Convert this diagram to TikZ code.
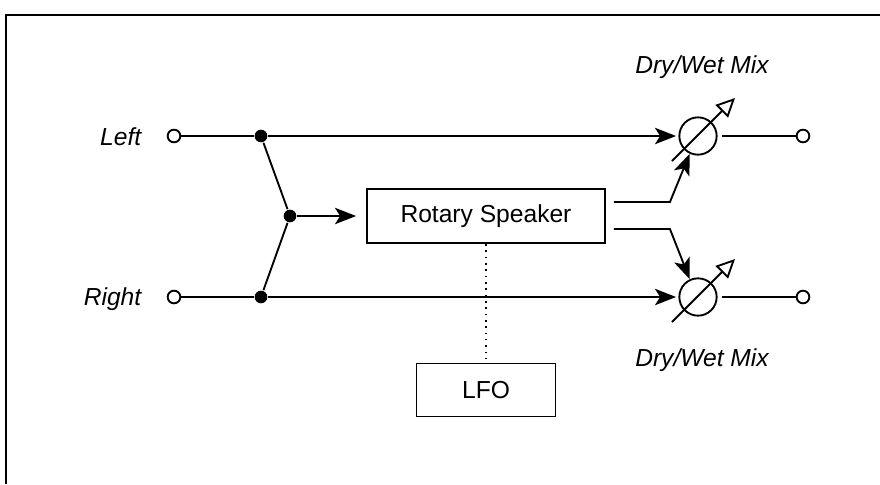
\documentclass[tikz,border=0pt]{standalone}
\usepackage{fontspec}
\setmainfont{Liberation Sans}
\usetikzlibrary{arrows.meta,positioning,calc}

\begin{document}
\begin{tikzpicture}[
    x=0.015cm, y=-0.015cm,
    >={Stealth[length=9pt,width=7pt,inset=2.2pt]},
    font=\fontsize{10.5}{12}\selectfont,
    line width=0.8pt,
    procbox/.style={draw, inner sep=0pt},
    terminal/.style={circle, draw, fill=white, minimum size=0.19cm, inner sep=0pt},
    junction/.style={circle, fill, minimum size=0.19cm, inner sep=0pt},
    mixer/.style={circle, draw, minimum size=0.56cm, inner sep=0pt},
    chanlabel/.style={font=\fontsize{10.5}{12}\selectfont\itshape},
    sig/.style={->},
    ctrl/.style={dotted, line width=0.7pt},
    knob/.style={-{Triangle[open,length=8pt,width=7.5pt]}},
]
\useasboundingbox (0,0) rectangle (880,484);

% Frame
\draw[line width=1.1pt] (6,484) -- (6,15) -- (880,15);

% ---- Inputs ----
\node[chanlabel, anchor=base east] (leftlbl)  at (150,145) {Left};
\node[chanlabel, anchor=base east] (rightlbl) at (150,305) {Right};
\node[terminal] (inL) at (174,136) {};
\node[terminal] (inR) at (174,297) {};

% ---- Junctions ----
\node[junction] (jL) at (261,136) {};
\node[junction] (jR) at (261,297) {};
\node[junction] (jM) at (290,216) {};

% ---- Blocks ----
\node[procbox, minimum width=3.57cm, minimum height=0.81cm] (rotary) at (486,216) {Rotary Speaker};
\node[procbox, minimum width=2.085cm, minimum height=0.795cm] (lfo) at (486,390) {LFO};

% ---- Mixers and outputs ----
\node[mixer] (mixT) at (698,136) {};
\node[mixer] (mixB) at (698,297) {};
\node[terminal] (outT) at (803,136) {};
\node[terminal] (outB) at (803,297) {};
\node[chanlabel] (mixTlbl) at (702,67)  {Dry/Wet Mix};
\node[chanlabel] (mixBlbl) at (702,360) {Dry/Wet Mix};

% ---- Signal paths ----
\draw (inL) -- (jL);
\draw (inR) -- (jR);
\draw[sig, shorten >=1pt] (jL) -- (mixT);
\draw[sig, shorten >=1pt] (jR) -- (mixB);
\draw (jL) -- (jM) -- (jR);
\draw[sig, shorten >=0.15cm] (jM) -- (rotary);
\draw[shorten <=2pt] (mixT) -- (outT);
\draw[shorten <=2pt] (mixB) -- (outB);

% Rotary outputs to mixers
\draw[sig] ([shift={(8,-14)}]rotary.east) -- ++(56,0) -- (mixT.-115);
\draw[sig] ([shift={(8,13)}]rotary.east) -- ++(56,0) -- (mixB.115);

% LFO control
\draw[ctrl] (rotary) -- (lfo);

% Mix knobs
\draw[knob] ([shift={(-26,25)}]mixT.center) -- ([shift={(37,-38)}]mixT.center);
\draw[knob] ([shift={(-26,25)}]mixB.center) -- ([shift={(37,-38)}]mixB.center);
\end{tikzpicture}
\end{document}
